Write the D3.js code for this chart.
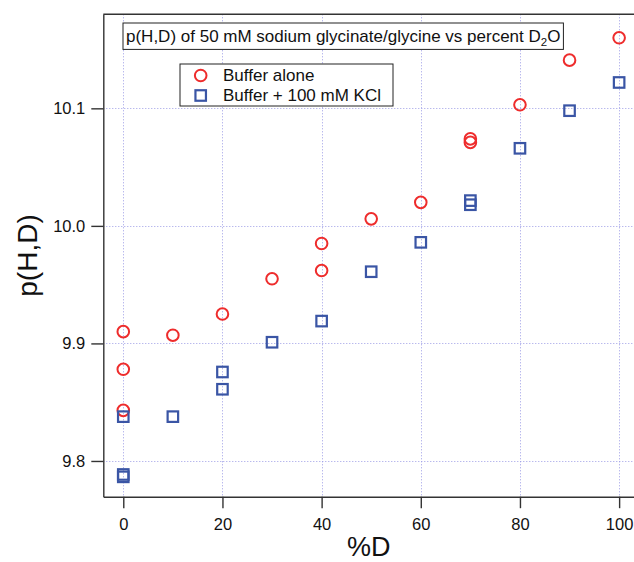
<!DOCTYPE html>
<html>
<head>
<meta charset="utf-8">
<script src="https://cdn.jsdelivr.net/npm/d3@7"></script>
<style>
  body { margin: 0; background: #fff; }
  svg text { font-family: "Liberation Sans", Arial, sans-serif; fill: #111; }
</style>
</head>
<body>
<div id="chart"></div>
<script>
// data
var alonePct = [0, 0, 0, 10, 20, 30, 40, 40, 50, 60, 70, 70, 80, 90, 100];
var alonePHD = [9.910, 9.878, 9.843, 9.907, 9.925, 9.955, 9.985, 9.962, 10.006, 10.020, 10.074, 10.071, 10.103, 10.141, 10.160];
var kclPct = [0, 0, 0, 10, 20, 20, 30, 40, 50, 60, 70, 70, 80, 90, 100];
var kclPHD = [9.8377, 9.7885, 9.7865, 9.8377, 9.8757, 9.861, 9.901, 9.919, 9.961, 9.986, 10.0215, 10.018, 10.066, 10.098, 10.122];
var xTicks = [0, 20, 40, 60, 80, 100];
var yTicks = [9.8, 9.9, 10.0, 10.1];
var seriesNames = ["Buffer alone", "Buffer + 100 mM KCl"];

var width = 634, height = 562;
var plotLeft = 103.3, plotRight = 634, plotTop = 14.3, plotBottom = 496.7;
var red = "#ee2c2c", blue = "#3a55a5", gridColor = "#9c9ce6";

var svg = d3.select("#chart").append("svg")
	.attr("width", width)
	.attr("height", height);

var x = d3.scaleLinear().domain([-4.03, 103]).range([plotLeft, plotRight]);
var y = d3.scaleLinear().domain([9.7696, 10.18]).range([plotBottom, plotTop]);

// grid
var grid = svg.append("g")
	.attr("stroke", gridColor)
	.attr("stroke-width", 1)
	.attr("stroke-dasharray", "1,2");
grid.selectAll("line.v").data(xTicks).enter().append("line")
	.attr("class", "v")
	.attr("x1", function (d) { return Math.round(x(d)) + 0.5; })
	.attr("x2", function (d) { return Math.round(x(d)) + 0.5; })
	.attr("y1", plotTop).attr("y2", plotBottom);
grid.selectAll("line.h").data(yTicks).enter().append("line")
	.attr("class", "h")
	.attr("y1", function (d) { return Math.round(y(d)) + 0.5; })
	.attr("y2", function (d) { return Math.round(y(d)) + 0.5; })
	.attr("x1", plotLeft).attr("x2", plotRight);

// axes
var xAxis = svg.append("g")
	.attr("transform", "translate(0," + plotBottom + ")")
	.call(d3.axisBottom(x).tickValues(xTicks).tickSize(11.5).tickSizeOuter(0).tickPadding(10)
		.tickFormat(d3.format("d")));
var yAxis = svg.append("g")
	.attr("transform", "translate(" + plotLeft + ",0)")
	.call(d3.axisLeft(y).tickValues(yTicks).tickSize(12).tickSizeOuter(0).tickPadding(6)
		.tickFormat(d3.format(".1f")));

[xAxis, yAxis].forEach(function (a) {
	a.selectAll("path, line").attr("stroke", "#333").attr("stroke-width", 1.4);
	a.selectAll("text").attr("font-size", "16.5px").attr("fill", "#111")
		.attr("font-family", "Liberation Sans, Arial, sans-serif");
});

// top frame
svg.append("line")
	.attr("x1", plotLeft).attr("x2", plotRight)
	.attr("y1", plotTop).attr("y2", plotTop)
	.attr("stroke", "#333").attr("stroke-width", 1.4);

// axis titles
svg.append("text")
	.attr("x", (plotLeft + plotRight) / 2).attr("y", 556)
	.attr("text-anchor", "middle")
	.attr("font-size", "27px")
	.text("%D");
svg.append("text")
	.attr("transform", "translate(37," + (plotTop + plotBottom) / 2 + ") rotate(-90)")
	.attr("text-anchor", "middle")
	.attr("font-size", "28px")
	.text("p(H,D)");

// points
var r = 5.8, side = 10.5;
var alone = alonePct.map(function (d, i) { return [d, alonePHD[i]]; });
var kcl = kclPct.map(function (d, i) { return [d, kclPHD[i]]; });

svg.append("g").selectAll("circle").data(alone).enter().append("circle")
	.attr("cx", function (d) { return x(d[0]); })
	.attr("cy", function (d) { return y(d[1]); })
	.attr("r", r)
	.attr("fill", "none")
	.attr("stroke", red)
	.attr("stroke-width", 2);

svg.append("g").selectAll("rect").data(kcl).enter().append("rect")
	.attr("x", function (d) { return x(d[0]) - side / 2; })
	.attr("y", function (d) { return y(d[1]) - side / 2; })
	.attr("width", side).attr("height", side)
	.attr("fill", "none")
	.attr("stroke", blue)
	.attr("stroke-width", 2.2);

// title box
var title = svg.append("g");
var titleBox = title.append("rect")
	.attr("x", 123).attr("y", 23).attr("height", 26.4)
	.attr("fill", "#fff").attr("stroke", "#222").attr("stroke-width", 1);
var titleText = title.append("text")
	.attr("x", 126).attr("y", 42)
	.attr("font-size", "17px");
titleText.append("tspan").text("p(H,D) of 50 mM sodium glycinate/glycine vs percent D");
titleText.append("tspan").attr("font-size", "11.5px").attr("dy", 4).text("2");
titleText.append("tspan").attr("dy", -4).text("O");
titleBox.attr("width", titleText.node().getComputedTextLength() + 6);

// legend
var legend = svg.append("g");
legend.append("rect")
	.attr("x", 180).attr("y", 64).attr("width", 213).attr("height", 42)
	.attr("fill", "#fff").attr("stroke", "#222").attr("stroke-width", 1);
legend.append("circle")
	.attr("cx", 200.7).attr("cy", 75.5).attr("r", r)
	.attr("fill", "none").attr("stroke", red).attr("stroke-width", 2);
legend.append("rect")
	.attr("x", 200.7 - side / 2).attr("y", 95.5 - side / 2)
	.attr("width", side).attr("height", side)
	.attr("fill", "none").attr("stroke", blue).attr("stroke-width", 2.2);
legend.selectAll("text").data(seriesNames).enter().append("text")
	.attr("x", 223)
	.attr("y", function (d, i) { return 81 + i * 20; })
	.attr("font-size", "17px")
	.text(function (d) { return d; });
</script>
</body>
</html>
